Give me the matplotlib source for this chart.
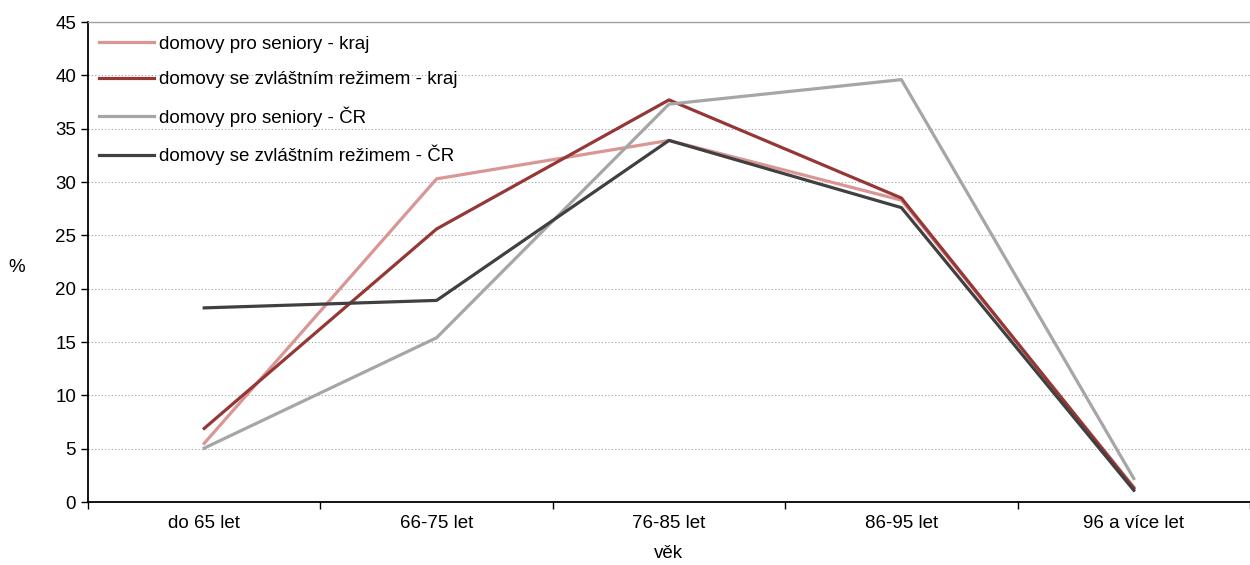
import matplotlib
matplotlib.use('Agg')
import matplotlib.pyplot as plt
import numpy as np

categories = ['do 65 let', '66-75 let', '76-85 let', '86-95 let', '96 a více let']
series_names = ['domovy pro seniory - kraj', 'domovy se zvláštním režimem - kraj',
                'domovy pro seniory - ČR', 'domovy se zvláštním režimem - ČR']
seniory_kraj = [5.5, 30.3, 33.9, 28.3, 1.4]
rezim_kraj = [6.9, 25.6, 37.7, 28.5, 1.3]
seniory_cr = [5.05, 15.4, 37.3, 39.6, 2.2]
rezim_cr = [18.2, 18.9, 33.9, 27.6, 1.1]
colors = ['#D99694', '#953735', '#A6A6A6', '#404040']

plt.rcParams['font.family'] = ['Liberation Sans', 'DejaVu Sans']
fs = 13.5

fig = plt.figure(figsize=(12.5, 5.65), dpi=100)
ax = fig.add_axes([0.0704, 0.1115, 0.9296, 0.8495])

x = np.arange(len(categories))
for vals, name, col in zip([seniory_kraj, rezim_kraj, seniory_cr, rezim_cr], series_names, colors):
    ax.plot(x, vals, color=col, linewidth=2.3, label=name)

ax.set_xlim(-0.5, len(categories) - 0.5)
ax.set_ylim(0, 45)
ax.set_yticks(range(0, 46, 5))
ax.grid(axis='y', color='#A0A0A0', linestyle=(0, (1, 2)), linewidth=0.8)
ax.set_axisbelow(True)

ax.set_xticks(x)
ax.set_xticklabels(categories, fontsize=fs)
ax.set_xticks(np.arange(-0.5, len(categories), 1.0), minor=True)
ax.tick_params(axis='x', which='major', length=0, pad=9)
ax.tick_params(axis='x', which='minor', length=5, width=1, color='black', direction='out')
ax.tick_params(axis='y', length=5, width=1, labelsize=fs, direction='out')

for s in ['left', 'bottom']:
    ax.spines[s].set_color('black')
    ax.spines[s].set_linewidth(1.3)
ax.spines['top'].set_color('#A0A0A0')
ax.spines['top'].set_linewidth(1.0)
ax.spines['right'].set_visible(False)

ax.set_xlabel('věk', fontsize=fs, labelpad=10)
ax.set_ylabel('%', fontsize=fs, rotation=0, labelpad=28, y=0.47)

leg = ax.legend(loc='upper left', frameon=False, fontsize=fs, handlelength=2.9,
                handletextpad=0.3, labelspacing=0.97, borderaxespad=0.2,
                bbox_to_anchor=(0.0, 0.995))

fig.savefig('out.png', dpi=100)
